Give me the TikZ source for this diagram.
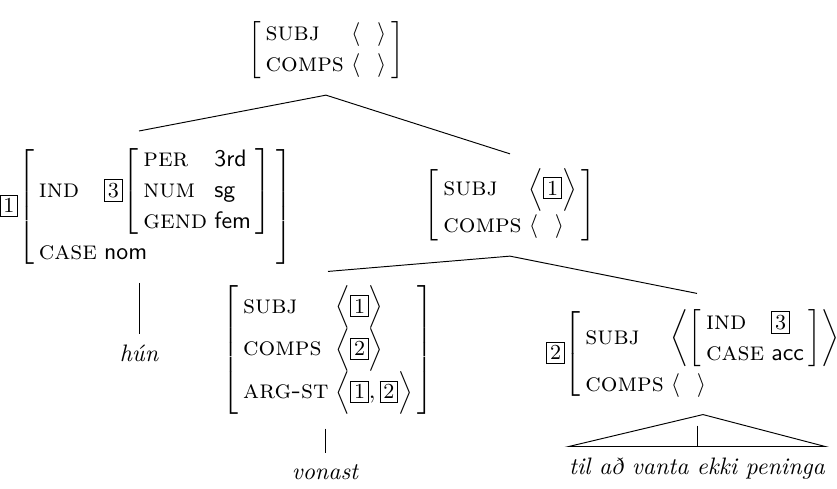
\documentclass[tikz,border=0pt]{standalone}
\usepackage{fontspec}
\usetikzlibrary{positioning}

% tags and feature structures
\newcommand{\tagbox}[1]{{\setlength{\fboxsep}{1.2pt}\fbox{\small #1}}}
\newcommand{\avm}[1]{\left[\begin{array}{@{\hspace{2pt}}l@{\hspace{3pt}}l@{\hspace{2pt}}}#1\end{array}\right]}
\newcommand{\feat}[1]{\mbox{\scshape\fontsize{11}{13}\selectfont\addfontfeature{LetterSpace=8}#1}}
\newcommand{\val}[1]{\textsf{#1}}
\newcommand{\emptylist}{\langle\hspace{7pt}\rangle}
\newcommand{\taglist}[1]{\Big\langle#1\Big\rangle}
\renewcommand{\arraystretch}{1.08}

\begin{document}
\begin{tikzpicture}[
    x=0.42pt, y=-0.42pt,
    avm/.style={inner sep=0pt, outer ysep=6pt},
    leaf/.style={inner sep=0pt, outer ysep=5pt, font=\itshape}
]
   \useasboundingbox (0,0) rectangle (837,489);

   % feature structures
   \node[avm] (top) at (326,50) {$\avm{\feat{subj} & \emptylist \\ \feat{comps} & \emptylist}$};
   \node[avm] (lft) at (146,207) {$\tagbox{1}\!\avm{\feat{ind} & \tagbox{3}\!\avm{\feat{per} & \val{3rd}\\ \feat{num} & \val{sg}\\ \feat{gend} & \val{fem}} \\[2pt] \feat{case} & \val{nom}}$};
   \node[avm] (mid) at (510,205) {$\avm{\feat{subj} & \taglist{\tagbox{1}} \\ \feat{comps} & \emptylist}$};
   \node[avm] (von) at (328,350) {$\avm{\feat{subj} & \taglist{\tagbox{1}} \\ \feat{comps} & \taglist{\tagbox{2}} \\ \feat{arg-st} & \taglist{\tagbox{1}, \tagbox{2}}}$};
   \node[avm] (rgt) at (703,354) {$\tagbox{2}\!\avm{\feat{subj} & \left\langle\avm{\feat{ind} & \tagbox{3}\\ \feat{case} & \val{acc}}\right\rangle \\[4pt] \feat{comps} & \emptylist}$};

   % words
   \node[leaf, anchor=base] (hun) at (139,362) {hún};
   \node[leaf, anchor=base] (vonast) at (325,480) {vonast};
   \node[leaf, anchor=base] (til) at (697,475) {til að vanta ekki peninga};

   % branches
   \draw (top.south) -- (lft.north -| hun.north);
   \draw (top.south) -- (mid.north);
   \draw (mid.south) -- (von.north);
   \draw (mid.south) -- (rgt.north -| til.north);
   \draw (lft.south -| hun.north) -- (hun.north);
   \draw (von.south -| vonast.north) -- (vonast.north);
   \draw (rgt.south) -- (til.north west) -- (til.north east) -- cycle;
   \draw (rgt.south -| til.north) ++(0,11) -- (til.north);
\end{tikzpicture}
\end{document}
